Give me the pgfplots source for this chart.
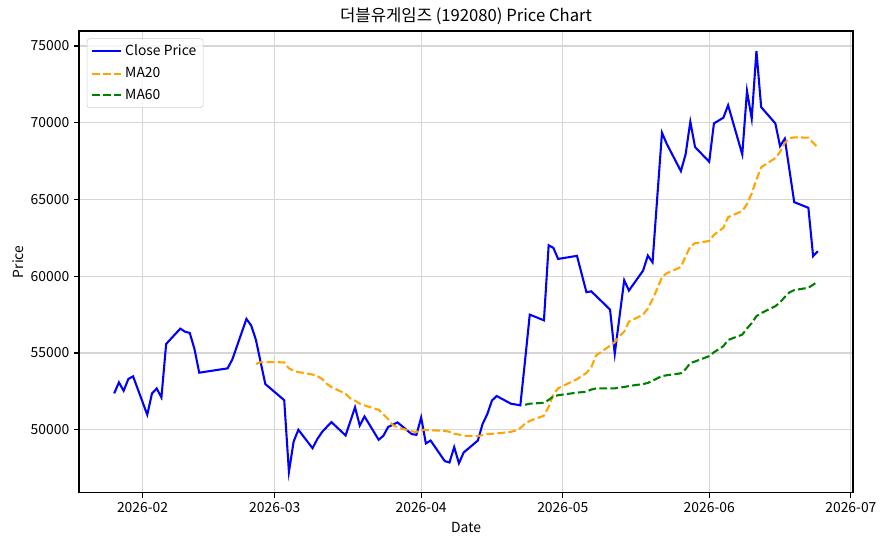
\documentclass[border=0pt]{standalone}
\usepackage{pgfplots}
\pgfplotsset{compat=1.18}
\usepackage{pgfplotstable}
\usepackage{fontspec}
\setmainfont{Noto Sans CJK KR}
\usetikzlibrary{calc}

\definecolor{mplblue}{RGB}{0,0,255}
\definecolor{mplorange}{RGB}{255,165,0}
\definecolor{mplgreen}{RGB}{0,128,0}
\definecolor{gridgray}{RGB}{214,214,214}
\definecolor{leggray}{RGB}{204,204,204}

% x = days since 2026-01-01 (Feb 1 = 31)
\pgfplotstableread{
d close
25 52370
26 53090
27 52540
28 53310
29 53480
32 50980
33 52370
34 52690
35 52110
36 55590
39 56590
40 56390
41 56310
42 55260
43 53720
49 54000
50 54570
53 57220
54 56800
55 55870
56 54420
57 52980
61 51930
62 47260
63 49240
64 50000
67 48800
68 49390
69 49850
70 50180
71 50500
74 49630
75 50550
76 51460
77 50280
78 50870
81 49350
82 49610
83 50180
84 50330
85 50480
88 49720
89 49670
90 50800
91 49110
92 49300
95 47960
96 47870
97 48870
98 47820
99 48520
102 49300
103 50370
104 51020
105 51910
106 52200
109 51700
110 51650
111 51590
112 54500
113 57500
114 57380
116 57130
117 62020
118 61850
119 61130
123 61330
125 58960
126 59020
127 58730
130 57830
131 54960
132 57350
133 59740
134 59070
137 60370
138 61350
139 60910
140 65150
141 69350
142 68630
145 66850
146 67940
147 70070
148 68420
151 67460
152 69960
154 70330
155 71140
158 67940
159 72070
160 70270
161 74680
162 71020
165 69960
166 68480
167 68960
168 66900
169 64830
172 64460
173 61310
174 61630
}\closedata

\pgfplotstableread{
d ma
55 54290
56 54400
57 54420
61 54390
62 54000
63 53850
64 53760
67 53600
68 53500
69 53320
70 53000
71 52780
74 52350
75 52050
76 51900
77 51700
78 51590
81 51300
82 51000
83 50700
84 50310
85 50150
88 49900
89 49850
90 50000
91 49990
92 49970
95 49930
96 49870
97 49740
98 49690
99 49610
102 49590
103 49650
104 49720
105 49740
106 49760
109 49870
110 49950
111 50110
112 50400
113 50580
116 50920
117 51500
118 52300
119 52700
123 53300
125 53700
126 54050
127 54830
130 55480
131 55700
132 56100
133 56400
134 57050
137 57500
138 57900
139 58500
140 59200
141 59950
142 60200
145 60600
146 61300
147 61950
148 62150
151 62300
152 62700
154 63160
155 63850
158 64250
159 64700
160 65400
161 66300
162 67100
165 67700
166 68100
167 68700
168 69000
169 69050
172 69030
173 68700
174 68400
}\matwenty

\pgfplotstableread{
d ma
112 51630
113 51700
116 51760
117 51950
118 52170
119 52250
123 52420
125 52480
126 52620
127 52690
130 52700
131 52700
132 52750
133 52790
134 52850
137 52980
138 53050
139 53200
140 53350
141 53500
142 53550
145 53680
146 53950
147 54350
148 54450
151 54800
152 55050
154 55450
155 55850
158 56200
159 56600
160 56950
161 57400
162 57600
165 58050
166 58300
167 58650
168 58950
169 59100
172 59250
173 59450
174 59650
}\masixty

\begin{document}
\begin{tikzpicture}
\begin{axis}[
  name=ax,
  scale only axis,
  width=557.3pt, height=332.6pt,
  xmin=17.55, xmax=181.45,
  ymin=45890, ymax=75980,
  axis line style={line width=0.8pt},
  tick style={black, line width=0.8pt},
  major tick length=3.5pt,
  tick align=outside,
  tick pos=left,
  xtick={31,59,90,120,151,181},
  xticklabels={2026-02,2026-03,2026-04,2026-05,2026-06,2026-07},
  ytick={50000,55000,60000,65000,70000,75000},
  yticklabel style={/pgf/number format/.cd, 1000 sep={}, fixed},
  /pgf/number format/assume math mode=true,
  scaled y ticks=false,
  ticklabel style={font=\fontsize{10}{12}\selectfont},
  grid=major,
  grid style={gridgray, line width=0.8pt},
  xlabel={Date},
  ylabel={Price},
  ylabel style={xshift=0pt, yshift=-1.5pt},
  label style={font=\fontsize{10}{12}\selectfont},
  title={더블유게임즈 (192080) Price Chart},
  title style={font=\fontsize{12}{14}\selectfont, yshift=-5pt},
  legend style={at={(0.01,0.984)}, anchor=north west, draw=leggray, rounded corners=2pt,
    fill=white, fill opacity=0.8, text opacity=1, font=\fontsize{10}{12}\selectfont,
    inner xsep=3pt, inner ysep=2.5pt, row sep=2.8pt},
  legend cell align=left,
  legend image code/.code={\draw[#1] (0pt,0pt) -- (21pt,0pt);},
]
\addplot[mplblue, line width=1.5pt, no markers] table[x=d, y=close] {\closedata};
\addlegendentry{Close Price}
\addplot[mplorange, line width=1.5pt, no markers, dash pattern=on 5.55pt off 2.4pt] table[x=d, y=ma] {\matwenty};
\addlegendentry{MA20}
\addplot[mplgreen, line width=1.5pt, no markers, dash pattern=on 5.55pt off 2.4pt] table[x=d, y=ma] {\masixty};
\addlegendentry{MA60}
\end{axis}
\pgfresetboundingbox
\path[use as bounding box] ($(ax.south west)+(-56.9pt,-38.2pt)$) rectangle ($(ax.north east)+(25.2pt,22.3pt)$);
\end{tikzpicture}
\end{document}
